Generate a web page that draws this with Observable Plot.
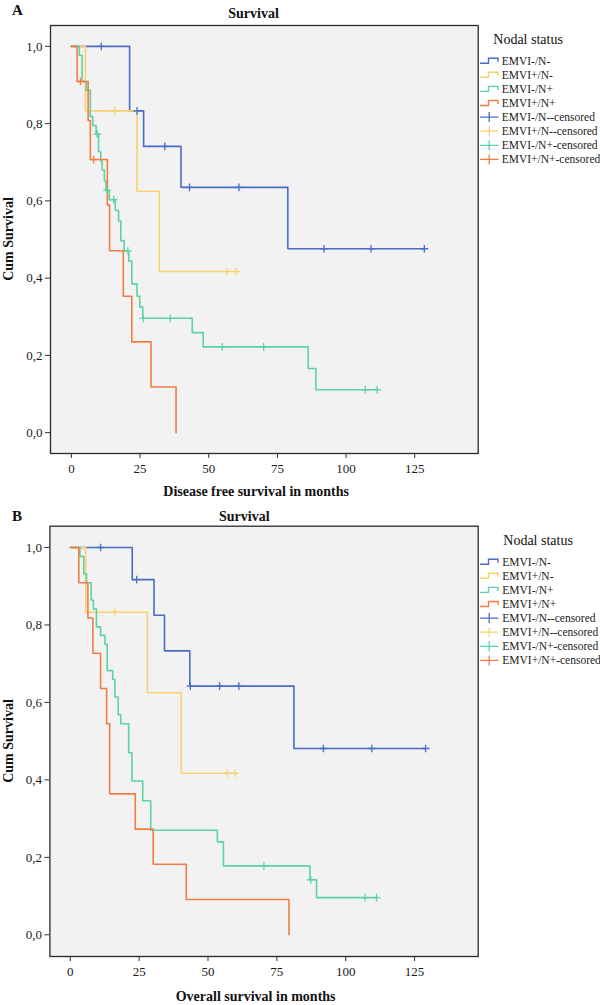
<!DOCTYPE html>
<html>
<head>
<meta charset="utf-8">
<script src="https://cdn.jsdelivr.net/npm/d3@7"></script>
<script src="https://cdn.jsdelivr.net/npm/@observablehq/plot@0.6"></script>
<style>
  body { margin: 0; background: #fff; }
  #wrap { position: relative; width: 600px; height: 1005px; overflow: hidden; font-family: "Liberation Serif", "Times New Roman", serif; }
  #wrap > svg { position: absolute; left: 0; display: block; }
</style>
</head>
<body>
<div id="wrap"></div>
<script>
// ---------- categories / colours / ticks ----------
const groups = ["EMVI-/N-", "EMVI+/N-", "EMVI-/N+", "EMVI+/N+"];
const colors = ["#4a6cc6", "#fbd16f", "#5cd3a3", "#f47c43"];
const legendLabels = ["EMVI-/N-", "EMVI+/N-", "EMVI-/N+", "EMVI+/N+",
  "EMVI-/N--censored", "EMVI+/N--censored", "EMVI-/N+-censored", "EMVI+/N+-censored"];
const xTicks = [0, 25, 50, 75, 100, 125];
const yTicks = [0, 0.2, 0.4, 0.6, 0.8, 1.0];

// ---------- Panel A: disease free survival (months) ----------
// event times, cumulative survival after each event, censoring times
const dfsBlueT = [21.2, 26.3, 39.9, 78.8];
const dfsBlueS = [0.833, 0.741, 0.635, 0.476];
const dfsBlueC = [10.9, 23.9, 34.0, 43.0, 61.0, 92.0, 109.1, 128.5];

const dfsYellowT = [5.1, 23.9, 32.0];
const dfsYellowS = [0.833, 0.625, 0.417];
const dfsYellowC = [15.8, 56.7, 60.1];

const dfsGreenT = [2.9, 3.9, 5.4, 6.9, 7.8, 9.0, 9.9, 10.7, 11.2, 12.0, 12.6, 13.8, 16.0, 17.2, 18.0, 19.2, 20.9, 22.0, 23.9, 24.9, 26.0, 44.0, 48.0, 86.2, 89.0];
const dfsGreenS = [0.977, 0.909, 0.886, 0.818, 0.795, 0.773, 0.727, 0.703, 0.68, 0.652, 0.627, 0.603, 0.575, 0.548, 0.497, 0.47, 0.444, 0.385, 0.353, 0.325, 0.296, 0.259, 0.222, 0.166, 0.111];
const dfsGreenC = [9.4, 13.0, 15.4, 20.6, 26.2, 36.0, 54.9, 70.0, 107.0, 111.3];

const dfsOrangeT = [2.1, 6.1, 6.9, 13.1, 13.9, 18.9, 22.0, 29.0, 38.1];
const dfsOrangeS = [0.909, 0.808, 0.707, 0.589, 0.471, 0.353, 0.235, 0.118, 0.0];
const dfsOrangeC = [3.3, 8.1];

// ---------- Panel B: overall survival (months) ----------
const osBlueT = [22.5, 30.4, 34.2, 43.4, 81.2];
const osBlueS = [0.917, 0.825, 0.733, 0.642, 0.481];
const osBlueC = [11.0, 24.1, 43.6, 54.2, 61.2, 91.9, 109.5, 129.0];

const osYellowT = [5.6, 28.0, 40.3];
const osYellowS = [0.833, 0.625, 0.417];
const osYellowC = [16.2, 57.0, 59.8];

const osGreenT = [3.5, 4.9, 5.9, 7.6, 8.4, 9.5, 11.0, 12.6, 13.4, 15.4, 16.2, 17.4, 18.3, 21.2, 22.4, 26.3, 29.2, 53.4, 55.6, 87.0, 89.4];
const osGreenS = [0.977, 0.932, 0.909, 0.864, 0.841, 0.795, 0.773, 0.75, 0.682, 0.659, 0.614, 0.568, 0.545, 0.47, 0.397, 0.346, 0.27, 0.24, 0.178, 0.142, 0.096];
const osGreenC = [70.3, 87.3, 107.0, 111.2];

const osOrangeT = [3.1, 6.4, 8.2, 11.0, 13.2, 14.3, 23.6, 30.1, 42.1, 79.4];
const osOrangeS = [0.909, 0.818, 0.727, 0.636, 0.545, 0.364, 0.273, 0.182, 0.091, 0.0];
const osOrangeC = [];

// ---------- build KM step data ----------
function build(specs) {
  const steps = [], cens = [];
  specs.forEach(([g, T, S, C]) => {
    steps.push({g, t: 0, s: 1});
    T.forEach((t, i) => steps.push({g, t, s: S[i]}));
    const last = S.length ? S[S.length - 1] : 1;
    const tEnd = Math.max(T.length ? T[T.length - 1] : 0, ...(C.length ? C : [0]));
    if (tEnd > (T.length ? T[T.length - 1] : 0)) steps.push({g, t: tEnd, s: last});
    C.forEach(c => {
      let s = 1;
      T.forEach((t, i) => { if (t <= c) s = S[i]; });
      cens.push({g, t: c, s});
    });
  });
  return {steps, cens};
}

const dfs = build([
  [groups[0], dfsBlueT, dfsBlueS, dfsBlueC],
  [groups[1], dfsYellowT, dfsYellowS, dfsYellowC],
  [groups[2], dfsGreenT, dfsGreenS, dfsGreenC],
  [groups[3], dfsOrangeT, dfsOrangeS, dfsOrangeC]
]);
const os = build([
  [groups[0], osBlueT, osBlueS, osBlueC],
  [groups[1], osYellowT, osYellowS, osYellowC],
  [groups[2], osGreenT, osGreenS, osGreenC],
  [groups[3], osOrangeT, osOrangeS, osOrangeC]
]);

const fmt = d => d.toFixed(1).replace(".", ",");

function panel(d, o) {
  return Plot.plot({
    width: 600, height: o.height,
    marginTop: o.mt, marginBottom: o.mb, marginLeft: o.ml, marginRight: 122.3,
    x: {domain: o.xd, label: null},
    y: {domain: o.yd, label: null},
    color: {domain: groups, range: colors},
    style: {fontFamily: "Liberation Serif, Times New Roman, serif", fontSize: "13px", color: "#1a1a1a", background: "transparent", overflow: "visible"},
    marks: [
      Plot.frame({fill: "#f2f2f2", stroke: "none"}),
      Plot.axisX({ticks: xTicks, tickSize: 5, tickPadding: 5, label: null, stroke: "#333"}),
      Plot.axisY({ticks: yTicks, tickSize: 5, tickPadding: 3, label: null, tickFormat: fmt, stroke: "#333"}),
      Plot.line(d.steps, {x: "t", y: "s", z: "g", stroke: "g", curve: "step-after", strokeWidth: 1.6}),
      Plot.dot(d.cens, {x: "t", y: "s", stroke: "g", symbol: "plus", r: 2.6, strokeWidth: 1.3}),
      Plot.frame({stroke: "#2a2a2a", strokeWidth: 1.3})
    ]
  });
}

const wrap = document.getElementById("wrap");
const svgA = panel(dfs, {height: 500, mt: 25, mb: 47, ml: 50, xd: [-7.6, 148.1], yd: [-0.054, 1.054]});
svgA.style.top = "0px";
wrap.appendChild(svgA);
const svgB = panel(os, {height: 505, mt: 25.7, mb: 49, ml: 49.4, xd: [-7.4, 148.1], yd: [-0.056, 1.055]});
svgB.style.top = "500px";
wrap.appendChild(svgB);

// ---------- titles, axis labels, legends ----------
const ov = d3.select(wrap).append("svg")
  .attr("width", 600).attr("height", 1005)
  .style("top", "0px").style("pointer-events", "none")
  .attr("font-family", "Liberation Serif, Times New Roman, serif").attr("fill", "#111");

function texts(p) {
  ov.append("text").attr("x", 12).attr("y", p.letterY).attr("font-weight", "bold").attr("font-size", 15).text(p.letter);
  ov.append("text").attr("x", p.titleX).attr("y", p.titleY).attr("font-weight", "bold").attr("font-size", 14).text("Survival");
  ov.append("text").attr("transform", `translate(13,${p.ylabY}) rotate(-90)`).attr("text-anchor", "middle")
    .attr("font-weight", "bold").attr("font-size", 14).text("Cum Survival");
  ov.append("text").attr("x", p.xlabX).attr("y", p.xlabY).attr("font-weight", "bold").attr("font-size", 14).text(p.xlab);
  ov.append("text").attr("x", p.nodX).attr("y", p.nodY).attr("font-size", 14).text("Nodal status");
  legendLabels.forEach((lab, i) => {
    const by = p.legY + i * 14.1;
    const col = colors[i % 4];
    const cy = by - 3.8;
    if (i < 4) {
      ov.append("path").attr("d", `M480,${cy + 2.5}H488.5V${cy - 2.5}H498V${cy + 1}`)
        .attr("fill", "none").attr("stroke", col).attr("stroke-width", 1.4);
    } else {
      ov.append("path").attr("d", `M480,${cy}H498.5M489.2,${cy - 5}V${cy + 5}`)
        .attr("fill", "none").attr("stroke", col).attr("stroke-width", 1.3);
    }
    ov.append("text").attr("x", p.legX).attr("y", by).attr("font-size", 11.5).attr("fill", "#222").text(lab);
  });
}
texts({letter: "A", letterY: 15, titleX: 228.3, titleY: 18.3, ylabY: 239, xlabX: 163.3, xlabY: 496,
  xlab: "Disease free survival in months", nodX: 493.3, nodY: 43.5, legY: 64.5, legX: 501.7});
texts({letter: "B", letterY: 520.5, titleX: 219, titleY: 520.5, ylabY: 741, xlabX: 175.7, xlabY: 1001,
  xlab: "Overall survival in months", nodX: 503.3, nodY: 544.5, legY: 565.5, legX: 502.3});
</script>
</body>
</html>
